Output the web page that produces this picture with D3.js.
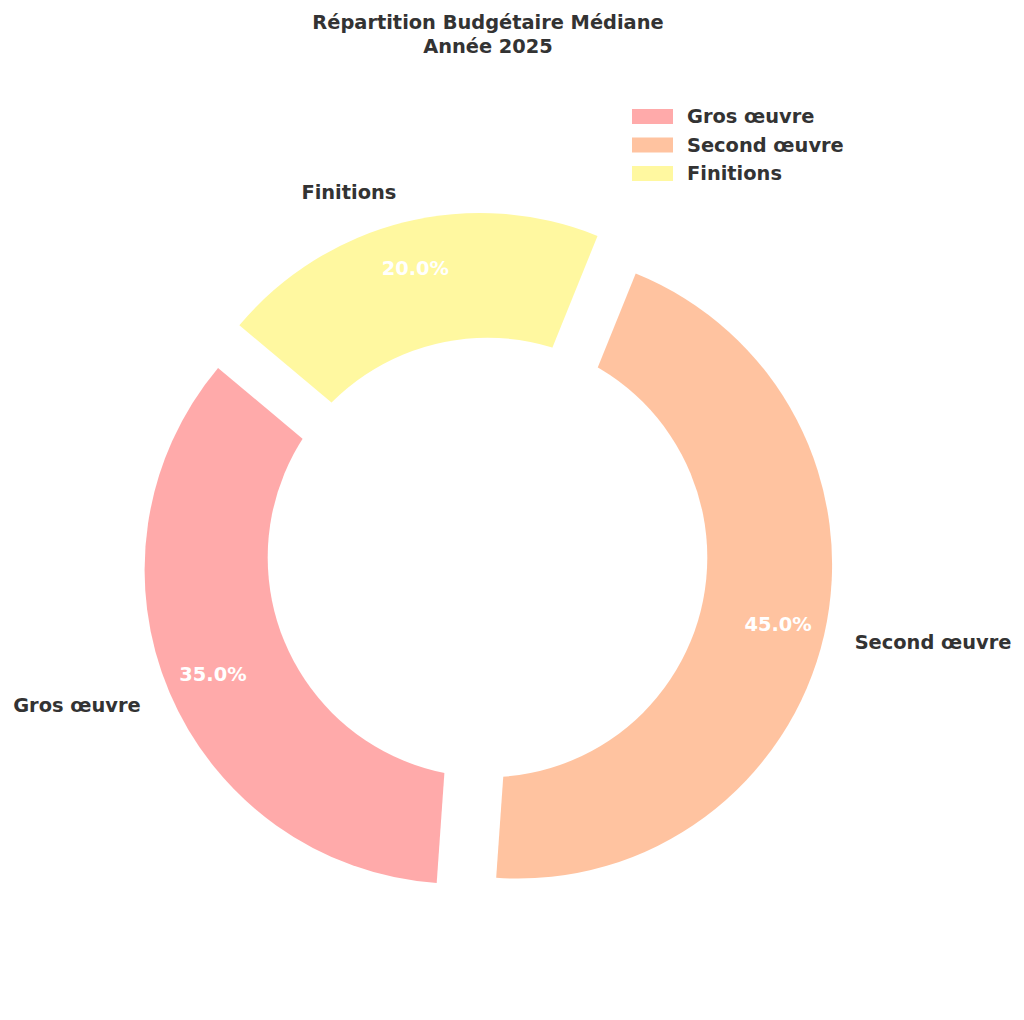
<!DOCTYPE html>
<html>
<head>
<meta charset="utf-8">
<script src="https://cdn.jsdelivr.net/npm/d3@7"></script>
<style>
body{margin:0;background:#fff;}
text{font-family:"DejaVu Sans",sans-serif;font-weight:bold;}
</style>
</head>
<body>
<script>
var categories=["Gros œuvre","Second œuvre","Finitions"];
var values=[35,45,20];
var colors=["#ffaaaa","#ffc3a0","#fff8a0"];
var titleLines=["Répartition Budgétaire Médiane","Année 2025"];

var width=1024;
var height=1020;
var cx=487.5, cy=557.5;
var R=314;
var holeR=R*0.7;   // white centre circle, not exploded
var explode=0.1*R;
var startAngle=140; // degrees, counter-clockwise like matplotlib
var fs="19.4px";

var svg=d3.select("body")
    .append("svg")
    .attr("width",width)
    .attr("height",height);

// d3.pie angles: 0 at top, clockwise. matplotlib: 0 at right, counter-clockwise.
var total=d3.sum(values);
var rad=Math.PI/180;
var pie=d3.pie().sort(null).value(function(d){return d;})
    .startAngle((90-startAngle)*rad)
    .endAngle((90-startAngle-360)*rad);
var arcs=pie(values);

var arc=d3.arc().innerRadius(0).outerRadius(R);

function mid(d){return (d.startAngle+d.endAngle)/2;}

var g=svg.append("g").attr("transform","translate("+cx+","+cy+")");

var slices=g.selectAll("g.slice")
    .data(arcs)
    .enter()
    .append("g")
    .attr("class","slice")
    .attr("transform",function(d){
        var m=mid(d);
        return "translate("+(explode*Math.sin(m))+","+(-explode*Math.cos(m))+")";
    });

slices.append("path")
    .attr("d",arc)
    .attr("fill",function(d,i){return colors[i];});

// centre hole
g.append("circle")
    .attr("r",holeR)
    .attr("fill","white");

var labels=g.selectAll("g.lab")
    .data(arcs)
    .enter()
    .append("g")
    .attr("class","lab")
    .attr("transform",function(d){
        var m=mid(d);
        return "translate("+(explode*Math.sin(m))+","+(-explode*Math.cos(m))+")";
    });

// percentage labels
labels.append("text")
    .attr("x",function(d){return 0.85*R*Math.sin(mid(d));})
    .attr("y",function(d){return -0.85*R*Math.cos(mid(d));})
    .attr("dy","0.35em")
    .attr("text-anchor","middle")
    .attr("fill","white")
    .attr("font-size",fs)
    .text(function(d){return (d.value/total*100).toFixed(1)+"%";});

// category labels
labels.append("text")
    .attr("x",function(d){return 1.1*R*Math.sin(mid(d));})
    .attr("y",function(d){return -1.1*R*Math.cos(mid(d));})
    .attr("dy","0.35em")
    .attr("text-anchor",function(d){return Math.sin(mid(d))<0?"end":"start";})
    .attr("fill","#333333")
    .attr("font-size",fs)
    .text(function(d,i){return categories[i];});

// title
svg.append("g").selectAll("text")
    .data(titleLines)
    .enter()
    .append("text")
    .attr("x",488)
    .attr("y",function(d,i){return 29+i*24;})
    .attr("text-anchor","middle")
    .attr("fill","#333333")
    .attr("font-size",fs)
    .text(function(d){return d;});

// legend
var legend=svg.append("g").attr("transform","translate(632,109)");
var item=legend.selectAll("g")
    .data(categories)
    .enter()
    .append("g")
    .attr("transform",function(d,i){return "translate(0,"+(i*28.5)+")";});
item.append("rect")
    .attr("width",41)
    .attr("height",15)
    .attr("fill",function(d,i){return colors[i];});
item.append("text")
    .attr("x",55)
    .attr("y",7.5)
    .attr("dy","0.35em")
    .attr("fill","#333333")
    .attr("font-size",fs)
    .text(function(d){return d;});
</script>
</body>
</html>
